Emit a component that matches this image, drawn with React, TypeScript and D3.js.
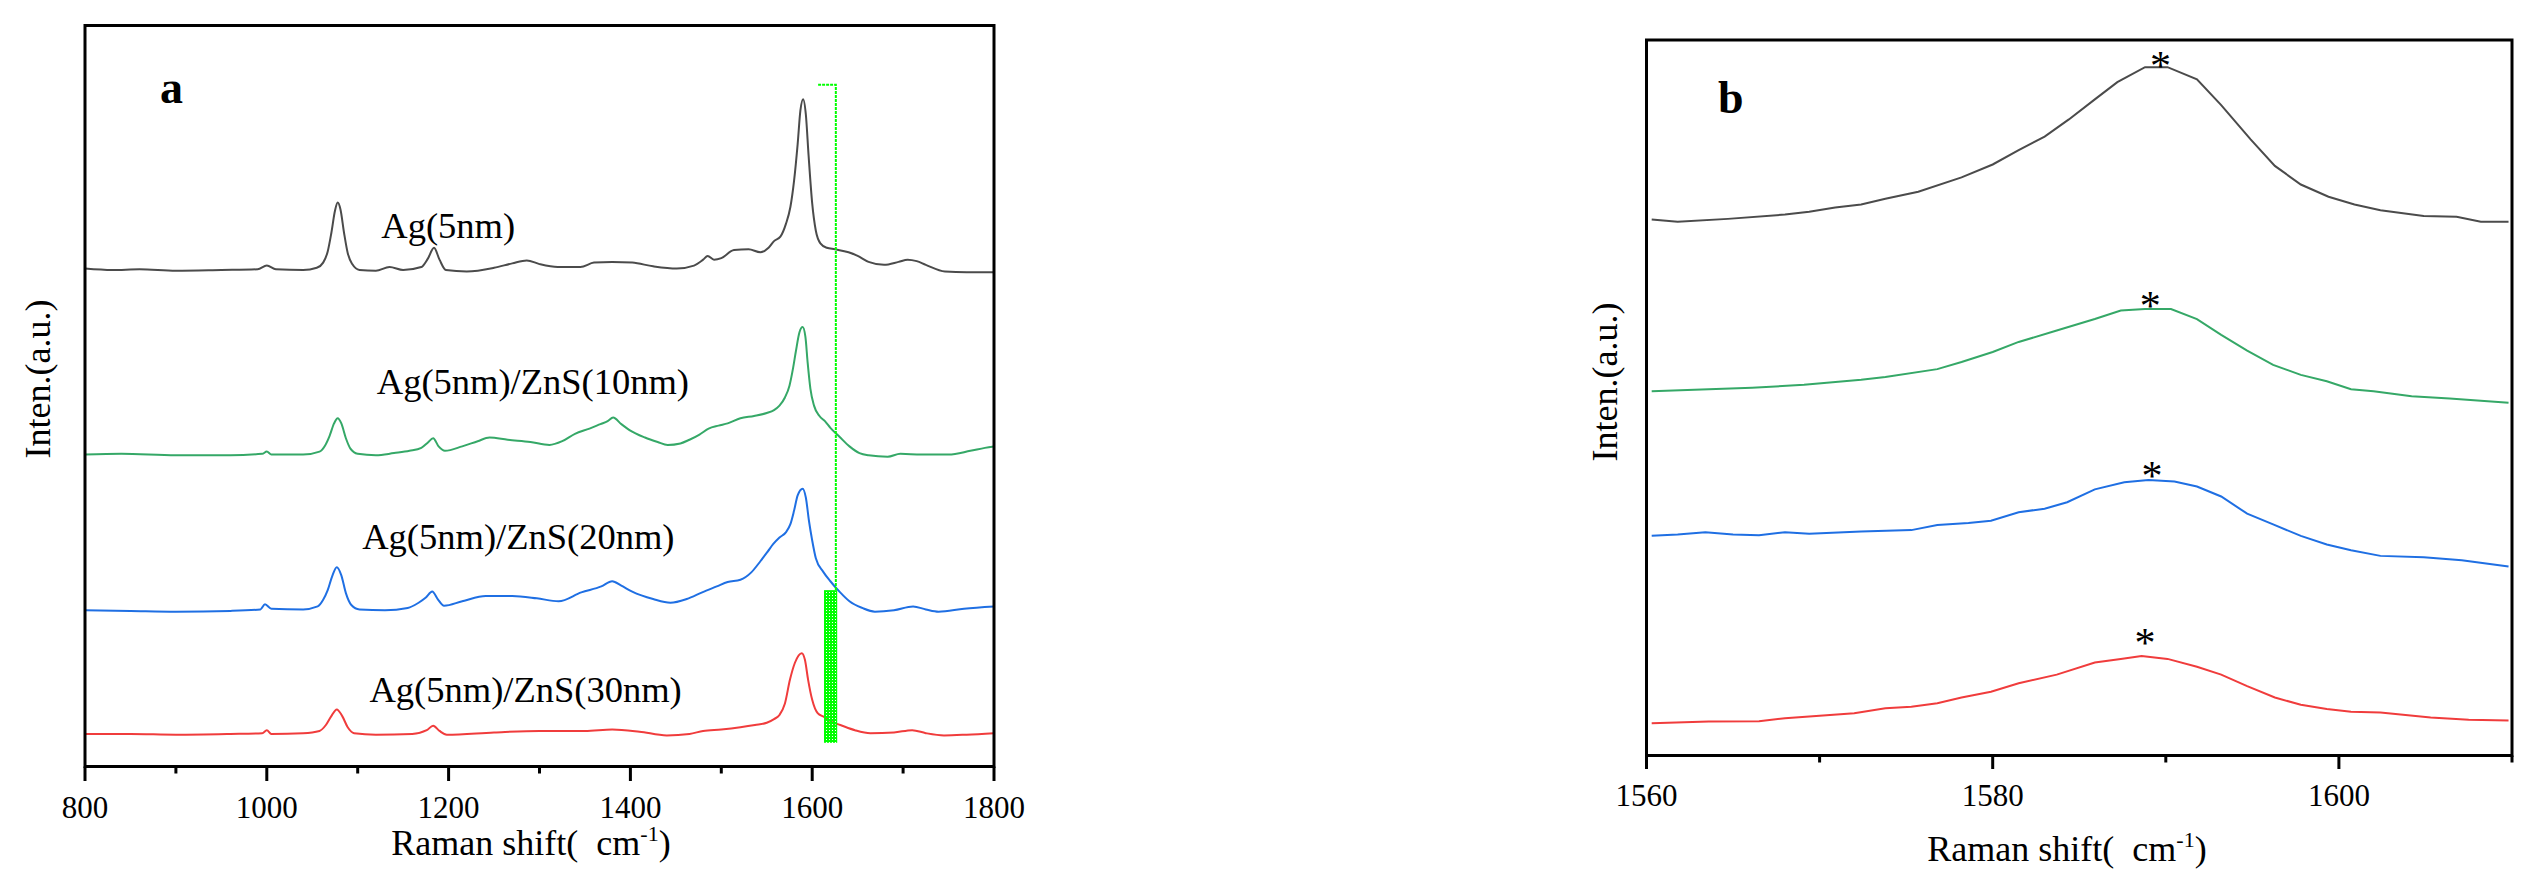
import React from "react";
import * as d3 from "d3";

// ---------- Panel a data (Raman shift, intensity a.u.) ----------
const ag5: [number, number][] = [
  [800, 67.2], [830, 67.0], [860, 67.1], [900, 66.9], [950, 67.0], [990, 67.1], [1000, 67.6], [1010, 67.1],
  [1040, 67.0], [1055, 67.3], [1062, 68.0], [1067, 69.5], [1071, 72.0], [1075, 75.0], [1078, 76.1], [1081, 75.2],
  [1085, 72.0], [1089, 69.3], [1094, 67.8], [1102, 67.0], [1120, 66.9], [1135, 67.4], [1150, 67.0], [1170, 67.4],
  [1177, 68.5], [1184, 70.0], [1190, 68.4], [1197, 67.0], [1220, 66.8], [1250, 67.3], [1270, 67.9], [1286, 68.3],
  [1300, 67.8], [1320, 67.4], [1345, 67.4], [1360, 68.0], [1380, 68.1], [1402, 68.0], [1425, 67.5], [1451, 67.2],
  [1470, 67.6], [1480, 68.4], [1485, 68.9], [1492, 68.4], [1500, 68.6], [1514, 69.7], [1530, 69.8], [1543, 69.4],
  [1552, 70.0], [1558, 70.9], [1565, 71.5], [1571, 73.2], [1576, 75.5], [1580, 79.0], [1584, 84.0], [1587, 88.5],
  [1590, 90.05], [1593, 88.0], [1596, 82.5], [1600, 76.0], [1604, 72.3], [1609, 70.6], [1616, 70.0], [1625, 69.8],
  [1640, 69.4], [1650, 68.9], [1662, 68.1], [1679, 67.7], [1695, 68.1], [1705, 68.4], [1715, 68.2], [1725, 67.7],
  [1746, 66.8], [1770, 66.7], [1800, 66.7],
];
const ag5zns10: [number, number][] = [
  [800, 42.1], [840, 42.2], [900, 42.0], [960, 42.0], [995, 42.2], [1000, 42.5], [1005, 42.1], [1040, 42.1],
  [1058, 42.5], [1064, 43.3], [1069, 44.6], [1074, 46.3], [1078, 47.0], [1082, 46.3], [1087, 44.3], [1092, 42.9],
  [1100, 42.2], [1120, 42.0], [1140, 42.3], [1157, 42.6], [1170, 43.0], [1177, 43.7], [1183, 44.3], [1189, 43.2],
  [1196, 42.6], [1215, 43.2], [1232, 43.9], [1245, 44.4], [1265, 44.1], [1290, 43.8], [1311, 43.4], [1325, 43.9],
  [1339, 44.9], [1355, 45.6], [1367, 46.2], [1375, 46.6], [1381, 47.1], [1390, 46.2], [1399, 45.4], [1416, 44.4],
  [1430, 43.8], [1441, 43.4], [1455, 43.6], [1465, 44.1], [1476, 44.8], [1486, 45.6], [1497, 46.0], [1507, 46.3],
  [1521, 47.0], [1536, 47.3], [1550, 47.7], [1558, 48.1], [1564, 48.7], [1570, 49.8], [1575, 51.4], [1579, 53.8],
  [1582, 56.0], [1586, 58.6], [1589.5, 59.3], [1592.5, 58.0], [1595, 54.5], [1598, 51.0], [1602, 48.7], [1608, 47.3],
  [1614, 46.6], [1620, 45.7], [1630, 44.5], [1641, 43.2], [1652, 42.3], [1662, 42.0], [1683, 41.8], [1697, 42.2],
  [1720, 42.1], [1750, 42.1], [1774, 42.6], [1790, 43.0], [1800, 43.2],
];
const ag5zns20: [number, number][] = [
  [800, 21.1], [850, 21.0], [900, 20.9], [960, 21.0], [993, 21.2], [998, 21.9], [1005, 21.3], [1040, 21.2],
  [1056, 21.6], [1062, 22.5], [1067, 23.8], [1072, 25.7], [1077, 26.9], [1082, 25.8], [1087, 23.4], [1093, 21.8],
  [1102, 21.2], [1130, 21.1], [1155, 21.4], [1167, 22.1], [1175, 22.8], [1182, 23.6], [1188, 22.6], [1195, 21.7],
  [1215, 22.3], [1241, 23.0], [1270, 23.0], [1297, 22.7], [1321, 22.3], [1346, 23.5], [1368, 24.3], [1380, 25.0],
  [1390, 24.4], [1402, 23.6], [1425, 22.6], [1444, 22.1], [1462, 22.6], [1479, 23.5], [1495, 24.3], [1507, 24.9],
  [1521, 25.2], [1533, 26.2], [1543, 27.7], [1551, 29.0], [1557, 30.0], [1564, 30.9], [1571, 31.6], [1576, 32.7],
  [1580, 34.5], [1584, 36.6], [1589.5, 37.5], [1593, 36.3], [1596.5, 33.1], [1600, 30.5], [1604, 28.1], [1612, 26.3],
  [1620, 25.0], [1630, 23.6], [1641, 22.3], [1655, 21.4], [1669, 20.9], [1690, 21.1], [1711, 21.6], [1725, 21.2],
  [1739, 20.9], [1767, 21.3], [1800, 21.6],
];
const ag5zns30: [number, number][] = [
  [800, 4.4], [850, 4.4], [900, 4.3], [960, 4.4], [995, 4.5], [1000, 4.9], [1005, 4.4], [1040, 4.5],
  [1058, 4.8], [1065, 5.6], [1071, 6.8], [1077, 7.7], [1083, 6.8], [1089, 5.3], [1096, 4.5], [1120, 4.3],
  [1160, 4.4], [1176, 4.9], [1183, 5.5], [1190, 4.8], [1198, 4.3], [1250, 4.6], [1300, 4.8], [1350, 4.8],
  [1380, 5.0], [1410, 4.7], [1440, 4.2], [1465, 4.4], [1480, 4.8], [1500, 5.0], [1521, 5.3], [1537, 5.6],
  [1550, 5.9], [1558, 6.4], [1564, 6.95], [1570, 8.5], [1575.5, 11.7], [1581, 14.0], [1588.5, 15.3], [1592, 14.4],
  [1595.5, 11.7], [1600, 9.0], [1606, 7.2], [1613, 6.7], [1622, 6.0], [1631, 5.6], [1647, 4.9], [1664, 4.5],
  [1690, 4.6], [1710, 4.9], [1725, 4.5], [1745, 4.2], [1770, 4.3], [1800, 4.5],
];

// ---------- Panel b data (zoom 1560-1610) ----------
const bAg5: [number, number][] = [
  [1560.3, 74.9], [1561.8, 74.6], [1564.7, 75.0], [1568.0, 75.6], [1569.4, 76.0], [1570.9, 76.6], [1572.4, 77.0],
  [1573.8, 77.8], [1575.7, 78.8], [1578.2, 80.8], [1580.0, 82.6], [1581.5, 84.6], [1583.0, 86.5], [1584.4, 88.9],
  [1585.9, 91.7], [1587.2, 94.1], [1588.8, 96.2], [1590.1, 96.2], [1591.8, 94.5], [1593.2, 90.9], [1594.9, 86.1],
  [1596.3, 82.4], [1597.8, 79.8], [1599.4, 78.1], [1600.9, 77.0], [1602.4, 76.2], [1604.9, 75.4], [1606.8, 75.3],
  [1608.2, 74.6], [1609.8, 74.6],
];
const bZns10: [number, number][] = [
  [1560.3, 50.9], [1563.6, 51.2], [1566.1, 51.4], [1569.1, 51.8], [1572.4, 52.5], [1573.8, 52.9], [1576.8, 54.0],
  [1578.2, 55.0], [1580.0, 56.4], [1581.5, 57.8], [1583.7, 59.4], [1585.9, 61.0], [1587.4, 62.2], [1588.8, 62.4],
  [1590.3, 62.4], [1591.8, 61.0], [1593.2, 58.8], [1594.7, 56.6], [1596.2, 54.6], [1597.8, 53.2], [1599.3, 52.3],
  [1600.7, 51.2], [1602.0, 50.9], [1604.2, 50.2], [1606.4, 49.9], [1609.8, 49.3],
];
const bZns20: [number, number][] = [
  [1560.3, 30.7], [1561.8, 30.9], [1563.4, 31.2], [1565.0, 30.9], [1566.5, 30.8], [1568.0, 31.2], [1569.4, 31.0],
  [1572.4, 31.3], [1575.3, 31.5], [1576.8, 32.2], [1578.6, 32.5], [1579.9, 32.8], [1581.5, 34.0], [1583.0, 34.5],
  [1584.3, 35.4], [1585.9, 37.2], [1587.6, 38.2], [1589.0, 38.5], [1590.5, 38.3], [1591.8, 37.6], [1593.2, 36.2],
  [1594.7, 33.8], [1596.2, 32.3], [1597.8, 30.7], [1599.3, 29.5], [1600.7, 28.7], [1602.4, 27.9], [1604.9, 27.7],
  [1607.1, 27.3], [1609.8, 26.4],
];
const bZns30: [number, number][] = [
  [1560.3, 4.5], [1563.6, 4.75], [1566.5, 4.8], [1568.0, 5.2], [1572.0, 5.9], [1573.8, 6.6], [1575.3, 6.8],
  [1576.8, 7.3], [1578.2, 8.1], [1579.9, 8.9], [1581.5, 10.1], [1583.7, 11.3], [1585.9, 13.0], [1587.4, 13.5],
  [1588.6, 13.9], [1590.1, 13.5], [1591.8, 12.4], [1593.2, 11.3], [1594.7, 9.7], [1596.3, 8.1], [1597.8, 7.1],
  [1599.3, 6.5], [1600.7, 6.1], [1602.4, 6.0], [1605.3, 5.3], [1607.5, 5.0], [1609.8, 4.9],
];
const starsB: [number, number][] = [[1589.7, 97.2], [1589.1, 63.7], [1589.2, 39.9], [1588.8, 16.6]];

const seriesNames = ["Ag(5nm)", "Ag(5nm)/ZnS(10nm)", "Ag(5nm)/ZnS(20nm)", "Ag(5nm)/ZnS(30nm)"];
const seriesColors = ["#4b4b4b", "#35a867", "#1f6fe3", "#f03c3c"];
const labelPosA: [number, number][] = [[1126, 71.3], [1121, 50.3], [1105, 29.3], [1113, 8.64]];

const ticksA = [800, 1000, 1200, 1400, 1600, 1800];
const minorA = [900, 1100, 1300, 1500, 1700];
const ticksB = [1560, 1580, 1600];
const minorB = [1570, 1590, 1610];

// green marker: bracket and hatched bar (x range in cm-1, y in a.u.)
const bracketA: [number, number][] = [[1606.5, 92.0], [1626, 92.0], [1626, 23.8]];
const barA = { x0: 1613, x1: 1627.5, y0: 3.2, y1: 23.8 };

const FONT = "Liberation Serif, Times New Roman, DejaVu Serif, serif";
const txt = (size: number, extra: React.CSSProperties = {}): React.CSSProperties => ({
  fontFamily: FONT,
  fontSize: size,
  ...extra,
});

export default function App() {
  const xA = d3.scaleLinear().domain([800, 1800]).range([85, 994]);
  const yA = d3.scaleLinear().domain([0, 100]).range([766.5, 25.5]);
  const xB = d3.scaleLinear().domain([1560, 1610]).range([1646.5, 2512]);
  const yB = d3.scaleLinear().domain([0, 100]).range([755.5, 40]);

  const lineA = d3.line<[number, number]>().x((d) => xA(d[0])).y((d) => yA(d[1])).curve(d3.curveMonotoneX);
  const lineB = d3.line<[number, number]>().x((d) => xB(d[0])).y((d) => yB(d[1])).curve(d3.curveLinear);
  const bracketLine = d3.line<[number, number]>().x((d) => xA(d[0])).y((d) => yA(d[1]));

  const seriesA = [ag5, ag5zns10, ag5zns20, ag5zns30];
  const seriesB = [bAg5, bZns10, bZns20, bZns30];

  const xTitle = (cx: number, y: number) => (
    <text x={cx} y={y} textAnchor="middle" style={txt(36, { whiteSpace: "pre" })}>
      <tspan>{"Raman shift(  cm"}</tspan>
      <tspan dy={-14} style={{ fontSize: 22 }}>{"-1"}</tspan>
      <tspan dy={14}>{")"}</tspan>
    </text>
  );

  return (
    <svg width={2542} height={889} style={{ position: "absolute", left: 0, top: 0, background: "#fff" }}>
      <defs>
        <pattern id="dots" width={3} height={3} patternUnits="userSpaceOnUse">
          <path d="M0,0h3v3h-3z M1,1v1h1v-1z" fill="#00ff00" fillRule="evenodd" />
        </pattern>
      </defs>

      {/* Panel a */}
      <g>
        {seriesA.map((s, i) => (
          <path key={i} d={lineA(s) || ""} fill="none" stroke={seriesColors[i]} strokeWidth={2} />
        ))}
        <path d={bracketLine(bracketA) || ""} fill="none" stroke="#00ff00" strokeWidth={2} strokeDasharray="3 1" />
        <rect
          x={xA(barA.x0)}
          y={yA(barA.y1)}
          width={xA(barA.x1) - xA(barA.x0)}
          height={yA(barA.y0) - yA(barA.y1)}
          fill="url(#dots)"
        />
        <rect x={85} y={25.5} width={909} height={741} fill="none" stroke="#000" strokeWidth={3} />
        {ticksA.map((t) => (
          <g key={t}>
            <line x1={xA(t)} x2={xA(t)} y1={766.5} y2={781} stroke="#000" strokeWidth={3} />
            <text x={xA(t)} y={818} textAnchor="middle" style={txt(31)}>
              {t}
            </text>
          </g>
        ))}
        {minorA.map((t) => (
          <line key={t} x1={xA(t)} x2={xA(t)} y1={766.5} y2={773.5} stroke="#000" strokeWidth={3} />
        ))}
        {seriesNames.map((n, i) => (
          <text key={n} x={xA(labelPosA[i][0])} y={yA(labelPosA[i][1])} style={txt(36.5)}>
            {n}
          </text>
        ))}
        <text x={160} y={103} style={txt(46, { fontWeight: "bold" })}>
          a
        </text>
        <text transform="translate(50,379) rotate(-90)" textAnchor="middle" style={txt(36)}>
          Inten.(a.u.)
        </text>
        {xTitle(531, 855)}
      </g>

      {/* Panel b */}
      <g>
        {seriesB.map((s, i) => (
          <path key={i} d={lineB(s) || ""} fill="none" stroke={seriesColors[i]} strokeWidth={2} />
        ))}
        {starsB.map((s, i) => (
          <text key={i} x={xB(s[0])} y={yB(s[1]) + 20} textAnchor="middle" style={txt(42)}>
            *
          </text>
        ))}
        <rect x={1646.5} y={40} width={865.5} height={715.5} fill="none" stroke="#000" strokeWidth={3} />
        {ticksB.map((t) => (
          <g key={t}>
            <line x1={xB(t)} x2={xB(t)} y1={755.5} y2={769} stroke="#000" strokeWidth={3} />
            <text x={xB(t)} y={806} textAnchor="middle" style={txt(31)}>
              {t}
            </text>
          </g>
        ))}
        {minorB.map((t) => (
          <line key={t} x1={xB(t)} x2={xB(t)} y1={755.5} y2={762.5} stroke="#000" strokeWidth={3} />
        ))}
        <text x={1718} y={113} style={txt(46, { fontWeight: "bold" })}>
          b
        </text>
        <text transform="translate(1617,382) rotate(-90)" textAnchor="middle" style={txt(36)}>
          Inten.(a.u.)
        </text>
        {xTitle(2067, 861)}
      </g>
    </svg>
  );
}
